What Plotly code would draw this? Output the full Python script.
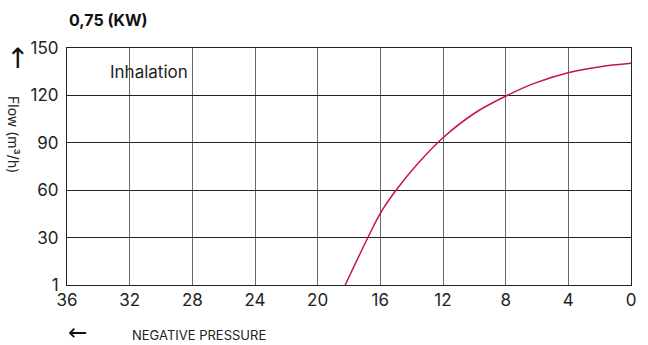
import plotly.graph_objects as go

pressure = [18.24, 16.87, 16.0, 15.07, 13.59, 12.0, 9.99, 7.98, 6.18, 4.02, 1.95, 0.0]
flow = [0, 28.5, 45.4, 59, 77, 93.2, 108.7, 119.6, 127.6, 134.4, 138.2, 140.3]

x_ticks = [36, 32, 28, 24, 20, 16, 12, 8, 4, 0]
y_ticks = [0, 30, 60, 90, 120, 150]
y_labels = ["1", "30", "60", "90", "120", "150"]

FONT = "Inter, Liberation Sans, sans-serif"

fig = go.Figure()
fig.add_trace(go.Scatter(x=pressure, y=flow, mode="lines", line=dict(color="#c8173f", width=1.5, shape="spline"),
                         showlegend=False, hoverinfo="skip"))

fig.update_layout(
    width=648, height=345,
    margin=dict(l=67, r=14, t=48, b=60),
    paper_bgcolor="white", plot_bgcolor="white",
    font=dict(family=FONT, color="#222", size=17),
    xaxis=dict(range=[36, 0], tickvals=x_ticks, ticktext=[str(v) for v in x_ticks],
               showgrid=True, gridcolor="#6a6a6a", gridwidth=1, zeroline=False,
               showline=True, linecolor="#222", linewidth=1, mirror=True,
               ticks="", ticklen=0, tickfont=dict(size=17), fixedrange=True),
    yaxis=dict(range=[0, 150], tickvals=y_ticks, ticktext=y_labels,
               showgrid=True, gridcolor="#222", gridwidth=1, zeroline=False,
               showline=True, linecolor="#222", linewidth=1, mirror=True,
               ticks="outside", ticklen=4, tickcolor="rgba(0,0,0,0)", tickfont=dict(size=17), fixedrange=True),
)

fig.add_annotation(text="<b>0,75 (KW)</b>", xref="paper", yref="paper", x=0, y=1, yshift=28,
                   xanchor="left", yanchor="middle", showarrow=False, font=dict(size=16, family=FONT, color="#111"))
fig.add_annotation(text="Inhalation", xref="paper", yref="paper", x=0.072, y=0.9,
                   xanchor="left", yanchor="middle", showarrow=False, font=dict(size=17, family=FONT, color="#222"))
fig.add_annotation(text="Flow (m³/h)", xref="paper", yref="paper", x=0, xshift=-53, y=0.637,
                   textangle=90, xanchor="center", yanchor="middle", showarrow=False,
                   font=dict(size=14, family=FONT, color="#222"))
fig.add_annotation(text="↑", xref="paper", yref="paper", x=0, xshift=-50, y=0.955,
                   xanchor="center", yanchor="middle", showarrow=False, font=dict(size=28, family="DejaVu Sans", color="#111"))
fig.add_annotation(text="←", xref="paper", yref="paper", x=0, xshift=10.5, y=0, yshift=-47,
                   xanchor="center", yanchor="middle", showarrow=False, font=dict(size=23, family="DejaVu Sans", color="#111"))
fig.add_annotation(text="NEGATIVE PRESSURE", xref="paper", yref="paper", x=0, xshift=63, y=0, yshift=-50,
                   xanchor="left", yanchor="middle", showarrow=False, font=dict(size=13, family=FONT, color="#222"))

fig.write_html("out.html", config={"displayModeBar": False},
               post_script="document.body.style.margin='0';")
